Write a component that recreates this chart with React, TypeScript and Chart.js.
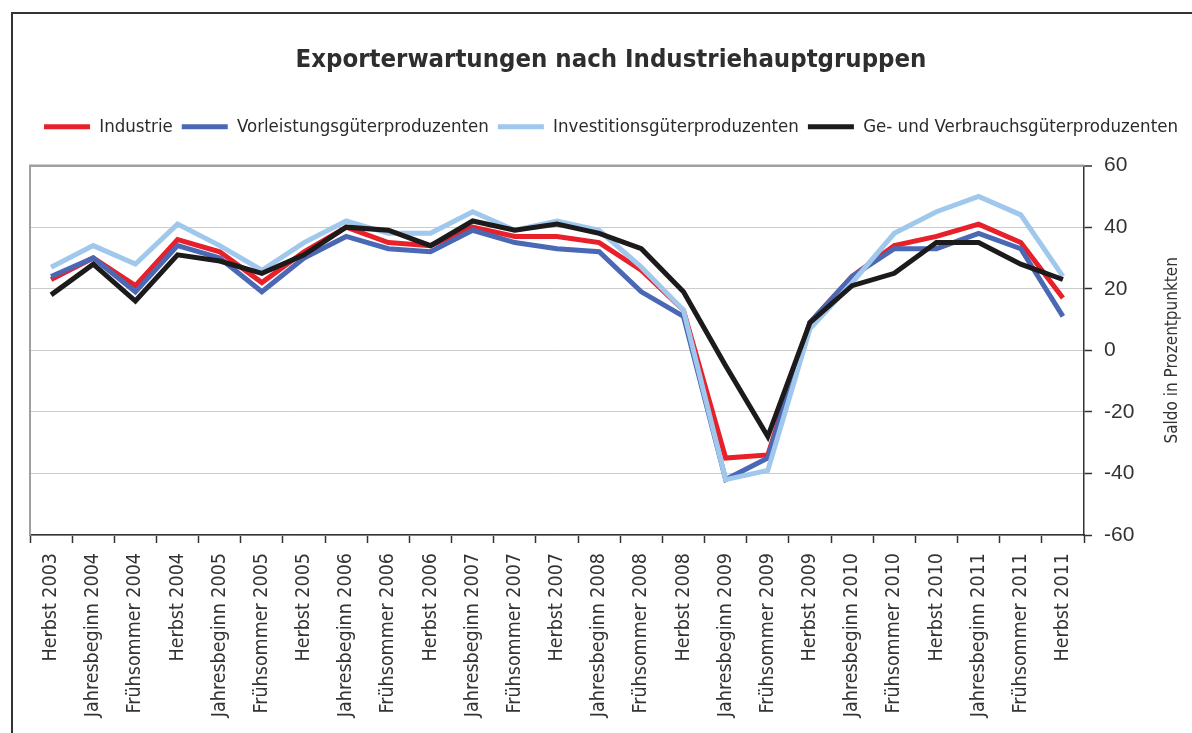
import React, { useEffect, useRef } from "react";
import { Chart, registerables } from "chart.js";

Chart.register(...registerables);

const categories = [
  "Herbst 2003", "Jahresbeginn 2004", "Frühsommer 2004", "Herbst 2004",
  "Jahresbeginn 2005", "Frühsommer 2005", "Herbst 2005",
  "Jahresbeginn 2006", "Frühsommer 2006", "Herbst 2006",
  "Jahresbeginn 2007", "Frühsommer 2007", "Herbst 2007",
  "Jahresbeginn 2008", "Frühsommer 2008", "Herbst 2008",
  "Jahresbeginn 2009", "Frühsommer 2009", "Herbst 2009",
  "Jahresbeginn 2010", "Frühsommer 2010", "Herbst 2010",
  "Jahresbeginn 2011", "Frühsommer 2011", "Herbst 2011",
];

const industrie = [23, 30, 21, 36, 32, 22, 32, 40, 35, 34, 40, 37, 37, 35, 26, 13, -35, -34, 9, 24, 34, 37, 41, 35, 17];
const vorleistung = [24, 30, 19, 34, 30, 19, 30, 37, 33, 32, 39, 35, 33, 32, 19, 11, -42, -35, 9, 24, 33, 33, 38, 33, 11];
const investition = [27, 34, 28, 41, 34, 26, 35, 42, 38, 38, 45, 39, 42, 39, 27, 13, -42, -39, 7, 22, 38, 45, 50, 44, 24];
const gebrauch = [18, 28, 16, 31, 29, 25, 31, 40, 39, 34, 42, 39, 41, 38, 33, 19, -5, -28, 9, 21, 25, 35, 35, 28, 23];

const seriesNames = [
  "Industrie",
  "Vorleistungsgüterproduzenten",
  "Investitionsgüterproduzenten",
  "Ge- und Verbrauchsgüterproduzenten",
];
const seriesColors = ["#e8202a", "#4a68b4", "#a0c8ec", "#1c1a1a"];
const yTicks = [-60, -40, -20, 0, 20, 40, 60];
const titleText = "Exporterwartungen nach Industriehauptgruppen";
const yTitle = "Saldo in Prozentpunkten";

const FONT = "'DejaVu Sans Condensed', 'DejaVu Sans', sans-serif";

export default function App() {
  const ref = useRef<HTMLCanvasElement | null>(null);

  useEffect(() => {
    if (!ref.current) return;
    const values = [industrie, vorleistung, investition, gebrauch];
    const orders = [3, 2, 1, 0];

    const framePlugin = {
      id: "framePlugin",
      beforeInit(chart: any) {
        const lg = chart.legend;
        if (lg) {
          const orig = lg.fit.bind(lg);
          lg.fit = function () {
            orig();
            this.height = 57;
          };
        }
      },
      beforeDraw(chart: any) {
        const ctx = chart.ctx;
        ctx.save();
        ctx.strokeStyle = "#333";
        ctx.lineWidth = 2;
        ctx.beginPath();
        ctx.moveTo(12, 740);
        ctx.lineTo(12, 13);
        ctx.lineTo(1200, 13);
        ctx.stroke();
        ctx.restore();
      },
      beforeDatasetsDraw(chart: any) {
        const { ctx, chartArea } = chart;
        ctx.save();
        ctx.strokeStyle = "#a0a0a0";
        ctx.lineWidth = 2;
        ctx.beginPath();
        ctx.moveTo(chartArea.left, chartArea.bottom);
        ctx.lineTo(chartArea.left, chartArea.top);
        ctx.lineTo(chartArea.right, chartArea.top);
        ctx.stroke();
        ctx.restore();
      },
      afterDraw(chart: any) {
        const { ctx, chartArea } = chart;
        ctx.save();
        ctx.translate(1173, (chartArea.top + chartArea.bottom) / 2);
        ctx.rotate(-Math.PI / 2);
        ctx.textAlign = "center";
        ctx.textBaseline = "middle";
        ctx.fillStyle = "#333";
        ctx.font = `17px ${FONT}`;
        ctx.fillText(yTitle, 0, 0);
        ctx.restore();
      },
    };

    const chart = new Chart(ref.current, {
      type: "line",
      data: {
        labels: categories,
        datasets: seriesNames.map((name, i) => ({
          label: name,
          data: values[i],
          borderColor: seriesColors[i],
          backgroundColor: seriesColors[i],
          borderWidth: 5,
          pointRadius: 0,
          tension: 0,
          fill: false,
          order: orders[i],
          borderJoinStyle: "miter" as const,
        })),
      },
      options: {
        responsive: false,
        animation: false,
        layout: { padding: { left: 30, right: 0, top: 0, bottom: 0 } },
        plugins: {
          tooltip: { enabled: false },
          title: {
            display: true,
            text: titleText,
            color: "#2e2e2e",
            font: { family: FONT, size: 25.5, weight: "bold", lineHeight: 1.2 },
            padding: { top: 45, bottom: 33 },
          },
          legend: {
            display: true,
            labels: {
              color: "#2b2b2b",
              font: { family: FONT, size: 18.5 },
              boxWidth: 46,
              boxHeight: 5,
              padding: 9,
              generateLabels: (c: any) => {
                const items = (Chart as any).defaults.plugins.legend.labels.generateLabels(c);
                return items
                  .map((it: any) => ({ ...it, lineWidth: 0, fillStyle: seriesColors[it.datasetIndex] }))
                  .sort((a: any, b: any) => a.datasetIndex - b.datasetIndex);
              },
            },
          },
        },
        scales: {
          x: {
            type: "category",
            offset: true,
            afterFit(scale: any) {
              scale.height = 198;
            },
            grid: {
              display: true,
              offset: true,
              drawOnChartArea: false,
              drawTicks: true,
              tickLength: 8,
              tickColor: "#333",
              tickWidth: 1.5,
            },
            border: { display: true, color: "#333", width: 1.5 },
            ticks: {
              autoSkip: false,
              maxRotation: 90,
              minRotation: 90,
              padding: 10,
              color: "#333",
              font: { family: FONT, size: 19.5 },
            },
          },
          y: {
            type: "linear",
            position: "right",
            min: -60,
            max: 60,
            afterFit(scale: any) {
              scale.width = 108;
            },
            afterBuildTicks(scale: any) {
              scale.ticks = yTicks.map((v) => ({ value: v }));
            },
            grid: {
              color: (c: any) => (c.tick && c.tick.value === 60 ? "#a0a0a0" : "#cccccc"),
              lineWidth: (c: any) => (c.tick && c.tick.value === 60 ? 2 : 1),
              drawTicks: true,
              tickLength: 8,
              tickColor: "#333",
              tickWidth: 1.5,
            },
            border: { display: true, color: "#333", width: 1.5 },
            ticks: {
              padding: 12,
              color: "#333",
              font: { family: "'Liberation Sans', Arial, sans-serif", size: 21 },
              callback: (v: any) => String(v),
            },
          },
        },
      },
      plugins: [framePlugin],
    } as any);

    return () => chart.destroy();
  }, []);

  return (
    <div style={{ position: "fixed", left: 0, top: 0, width: 1192, height: 733, background: "#fff" }}>
      <canvas ref={ref} width={1192} height={733} style={{ display: "block" }} />
    </div>
  );
}
